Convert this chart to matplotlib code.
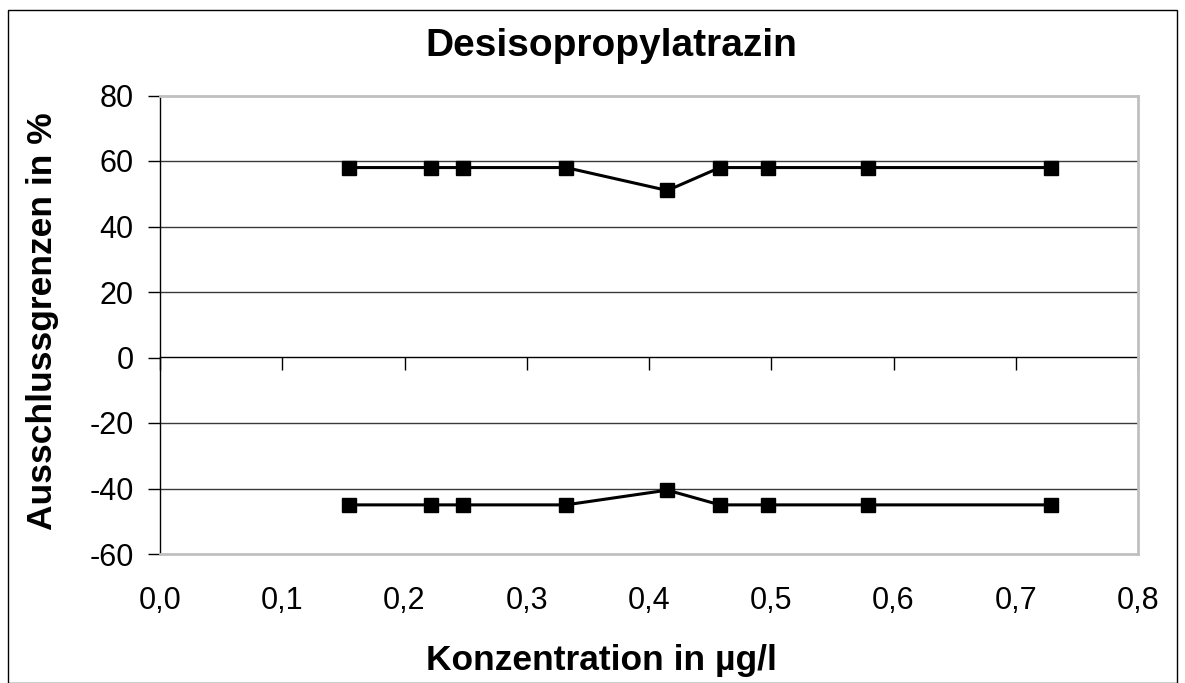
import matplotlib
matplotlib.use("Agg")
import matplotlib.pyplot as plt
from matplotlib.patches import Rectangle

plt.rcParams['font.family'] = ['Liberation Sans', 'DejaVu Sans']

# Data
konzentration = [0.155, 0.2215, 0.2477, 0.332, 0.415, 0.458, 0.497, 0.5795, 0.729]
obere_grenze = [58, 58, 58, 58, 51, 58, 58, 58, 58]
untere_grenze = [-45, -45, -45, -45, -40.5, -45, -45, -45, -45]
x_ticks = [0.0, 0.1, 0.2, 0.3, 0.4, 0.5, 0.6, 0.7, 0.8]
x_ticklabels = ["0,0", "0,1", "0,2", "0,3", "0,4", "0,5", "0,6", "0,7", "0,8"]
y_ticks = [-60, -40, -20, 0, 20, 40, 60, 80]

title = "Desisopropylatrazin"
xlabel = "Konzentration in µg/l"
ylabel = "Ausschlussgrenzen in %"

W, H = 1185, 683
fig = plt.figure(figsize=(W / 100, H / 100), dpi=100)
fig.patch.set_facecolor('white')

# Outer chart border
fig.patches.append(Rectangle((8 / W, 0), (1177 - 8) / W, 1 - 10 / H,
                             transform=fig.transFigure, fill=False,
                             edgecolor='black', linewidth=1.0))

ax = fig.add_axes([160 / W, 1 - 554 / H, (1138 - 160) / W, (554 - 95.5) / H])
ax.set_xlim(0, 0.8)
ax.set_ylim(-60, 80)

# gridlines
for yv in y_ticks:
    if yv in (-60, 80, 0):
        continue
    ax.axhline(yv, color='#3a3a3a', linewidth=1.0, zorder=1)

for side in ('top', 'right', 'bottom'):
    ax.spines[side].set_color('#c0c0c0')
    ax.spines[side].set_linewidth(2.0)
ax.spines['left'].set_color('black')
ax.spines['left'].set_linewidth(1.0)

ax.set_yticks(y_ticks)
ax.set_yticklabels([str(v) for v in y_ticks])
ax.tick_params(axis='y', direction='out', length=9, width=1, labelsize=22, pad=10, colors='black')

ax.set_xticks(x_ticks)
ax.set_xticklabels(x_ticklabels)
ax.tick_params(axis='x', length=0, labelsize=22, pad=23)

# x axis line at y=0 with ticks
sec = ax.secondary_xaxis(60 / 140)
sec.set_xticks(x_ticks)
sec.tick_params(axis='x', direction='out', length=9, width=1, labelbottom=False, labeltop=False,
                bottom=True, top=False)
sec.xaxis.set_ticks_position('bottom')
sec.spines['bottom'].set_color('black')
sec.spines['bottom'].set_linewidth(1.0)
sec.set_xticklabels([])

ax.plot(konzentration, obere_grenze, color='black', linewidth=2.2, marker='s',
        markersize=10, zorder=3, clip_on=False)
ax.plot(konzentration, untere_grenze, color='black', linewidth=2.2, marker='s',
        markersize=10, zorder=3, clip_on=False)

fig.text(611 / W, 1 - 56 / H, title, ha='center', va='baseline', fontsize=28, fontweight='bold')
fig.text(601 / W, 1 - 670 / H, xlabel, ha='center', va='baseline', fontsize=25.5, fontweight='bold')
fig.text(52 / W, 1 - 321 / H, ylabel, ha='center', va='baseline', fontsize=25.5, fontweight='bold',
         rotation=90, rotation_mode='anchor')

fig.savefig("out.png", dpi=100, facecolor='white')
